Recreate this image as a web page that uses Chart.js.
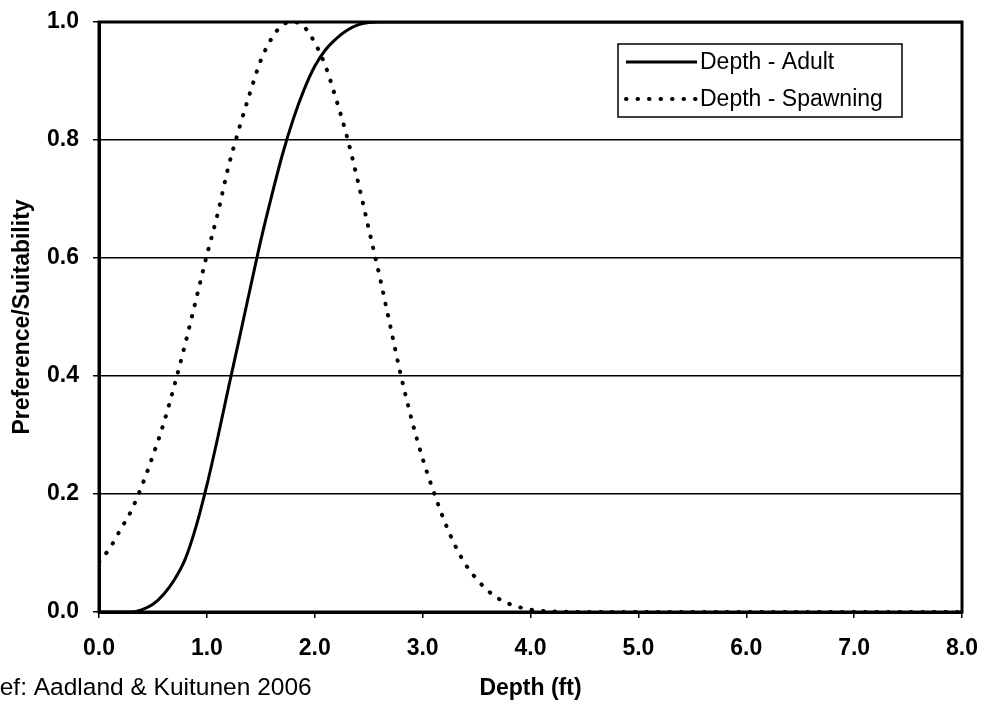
<!DOCTYPE html>
<html lang="en">
<head>
    <meta charset="UTF-8">
    <title>Depth Preference/Suitability</title>
    <script src="https://cdn.jsdelivr.net/npm/chart.js@4.4.1/dist/chart.umd.min.js"></script>
    <style>
        * { margin: 0; padding: 0; box-sizing: border-box; }
        body { background: #fff; }
        #wrap { width: 986px; height: 705px; }
    </style>
</head>
<body>
    <div id="wrap">
        <canvas id="depthChart" width="986" height="705"></canvas>
    </div>

    <script>
        // curve readings (depth in ft, preference 0..1)
        const adultDepth = [0, 0.3, 0.4, 0.5, 0.6, 0.7, 0.8, 0.9, 1.0, 1.1, 1.2, 1.3, 1.4, 1.5, 1.6, 1.7, 1.8, 1.9, 2.0, 2.1, 2.2, 2.3, 2.4, 2.5, 2.6, 8.0];
        const adultPref  = [0, 0, 0.004, 0.013, 0.03, 0.055, 0.09, 0.145, 0.215, 0.295, 0.38, 0.463, 0.547, 0.63, 0.705, 0.775, 0.835, 0.885, 0.925, 0.953, 0.972, 0.986, 0.995, 0.999, 1.0, 1.0];

        const spawnDepth = [0, 0.1, 0.2, 0.3, 0.4, 0.5, 0.6, 0.7, 0.8, 0.9, 1.0, 1.1, 1.2, 1.3, 1.4, 1.5, 1.6, 1.7, 1.8, 1.9, 2.0, 2.1, 2.2, 2.3, 2.4, 2.5, 2.6, 2.7, 2.8, 2.9, 3.0, 3.1, 3.2, 3.3, 3.4, 3.5, 3.6, 3.7, 3.8, 3.9, 4.0, 4.1, 4.2, 4.5, 8.0];
        const spawnPref  = [0.085, 0.108, 0.14, 0.172, 0.215, 0.265, 0.32, 0.385, 0.455, 0.53, 0.605, 0.675, 0.755, 0.82, 0.88, 0.935, 0.972, 0.995, 1.0, 0.992, 0.965, 0.925, 0.868, 0.805, 0.73, 0.65, 0.57, 0.485, 0.40, 0.325, 0.26, 0.205, 0.155, 0.113, 0.08, 0.056, 0.037, 0.023, 0.014, 0.008, 0.004, 0.002, 0.001, 0, 0];

        const seriesLabels = ['Depth - Adult', 'Depth - Spawning'];
        const xTitle = 'Depth (ft)';
        const yTitle = 'Preference/Suitability';
        const refNote = 'Ref: Aadland & Kuitunen 2006';

        const FONT = "'Liberation Sans', Arial, sans-serif";

        function toPoints(xs, ys) {
            return xs.map((x, i) => ({ x: x, y: ys[i] }));
        }

        // box round the plot, legend box and the reference note
        const extras = {
            id: 'extras',
            afterDatasetsDraw(chart) {
                const a = chart.chartArea;
                const ctx = chart.ctx;
                ctx.save();
                ctx.strokeStyle = '#000';
                ctx.lineWidth = 3;
                ctx.strokeRect(a.left, a.top, a.right - a.left, a.bottom - a.top);
                ctx.restore();
            },
            afterDraw(chart) {
                const ctx = chart.ctx;
                ctx.save();

                // legend
                const bx = 618, by = 44, bw = 284, bh = 73;
                ctx.fillStyle = '#fff';
                ctx.fillRect(bx, by, bw, bh);
                ctx.strokeStyle = '#000';
                ctx.lineWidth = 1.5;
                ctx.strokeRect(bx, by, bw, bh);

                const rows = [62, 99];
                chart.data.datasets.forEach((ds, i) => {
                    ctx.beginPath();
                    ctx.setLineDash(ds.borderDash || []);
                    ctx.lineCap = ds.borderCapStyle || 'butt';
                    ctx.lineWidth = ds.borderWidth;
                    ctx.strokeStyle = ds.borderColor;
                    ctx.moveTo(626, rows[i]);
                    ctx.lineTo(697, rows[i]);
                    ctx.stroke();
                    ctx.setLineDash([]);

                    ctx.fillStyle = '#000';
                    ctx.font = '23px ' + FONT;
                    ctx.textAlign = 'left';
                    ctx.textBaseline = 'middle';
                    ctx.fillText(ds.label, 700, rows[i] + 1);
                });

                // source note, bottom left (left edge cut off in the scan)
                ctx.font = '24.5px ' + FONT;
                ctx.fillStyle = '#000';
                ctx.textBaseline = 'middle';
                ctx.fillText(refNote, -18, 688);
                ctx.restore();
            }
        };

        new Chart(document.getElementById('depthChart'), {
            type: 'line',
            data: {
                datasets: [{
                    label: seriesLabels[0],
                    data: toPoints(adultDepth, adultPref),
                    borderColor: '#000',
                    borderWidth: 3,
                    pointRadius: 0,
                    cubicInterpolationMode: 'monotone',
                    fill: false
                }, {
                    label: seriesLabels[1],
                    data: toPoints(spawnDepth, spawnPref),
                    borderColor: '#000',
                    borderWidth: 4,
                    borderDash: [0.5, 11],
                    borderCapStyle: 'round',
                    pointRadius: 0,
                    cubicInterpolationMode: 'monotone',
                    fill: false
                }]
            },
            options: {
                responsive: false,
                animation: false,
                layout: {
                    padding: { left: 0, right: 24, top: 22, bottom: 0 }
                },
                plugins: {
                    legend: { display: false },
                    tooltip: { enabled: false }
                },
                scales: {
                    x: {
                        type: 'linear',
                        min: 0,
                        max: 8,
                        afterFit: (s) => { s.height = 93; s.paddingLeft = 0; s.paddingRight = 0; },
                        ticks: {
                            stepSize: 1,
                            color: '#000',
                            padding: 17,
                            font: { family: FONT, size: 23, weight: 'bold' },
                            callback: (v) => v.toFixed(1)
                        },
                        grid: {
                            drawOnChartArea: false,
                            drawTicks: true,
                            tickLength: 6,
                            color: '#000',
                            lineWidth: 1.5
                        },
                        border: { color: '#000', width: 3 },
                        title: {
                            display: true,
                            text: xTitle,
                            color: '#000',
                            font: { family: FONT, size: 23, weight: 'bold' },
                            padding: { top: 0, bottom: 3 }
                        }
                    },
                    y: {
                        min: 0,
                        max: 1,
                        afterFit: (s) => { s.width = 99; s.paddingTop = 0; s.paddingBottom = 0; },
                        ticks: {
                            stepSize: 0.2,
                            color: '#000',
                            padding: 14,
                            font: { family: FONT, size: 23, weight: 'bold' },
                            callback: (v) => v.toFixed(1)
                        },
                        grid: {
                            color: '#000',
                            lineWidth: 1.5,
                            tickLength: 6
                        },
                        border: { color: '#000', width: 3 },
                        title: {
                            display: true,
                            text: yTitle,
                            color: '#000',
                            font: { family: FONT, size: 23, weight: 'bold' },
                            padding: { top: 9, bottom: 0 }
                        }
                    }
                }
            },
            plugins: [extras]
        });
    </script>
</body>
</html>
